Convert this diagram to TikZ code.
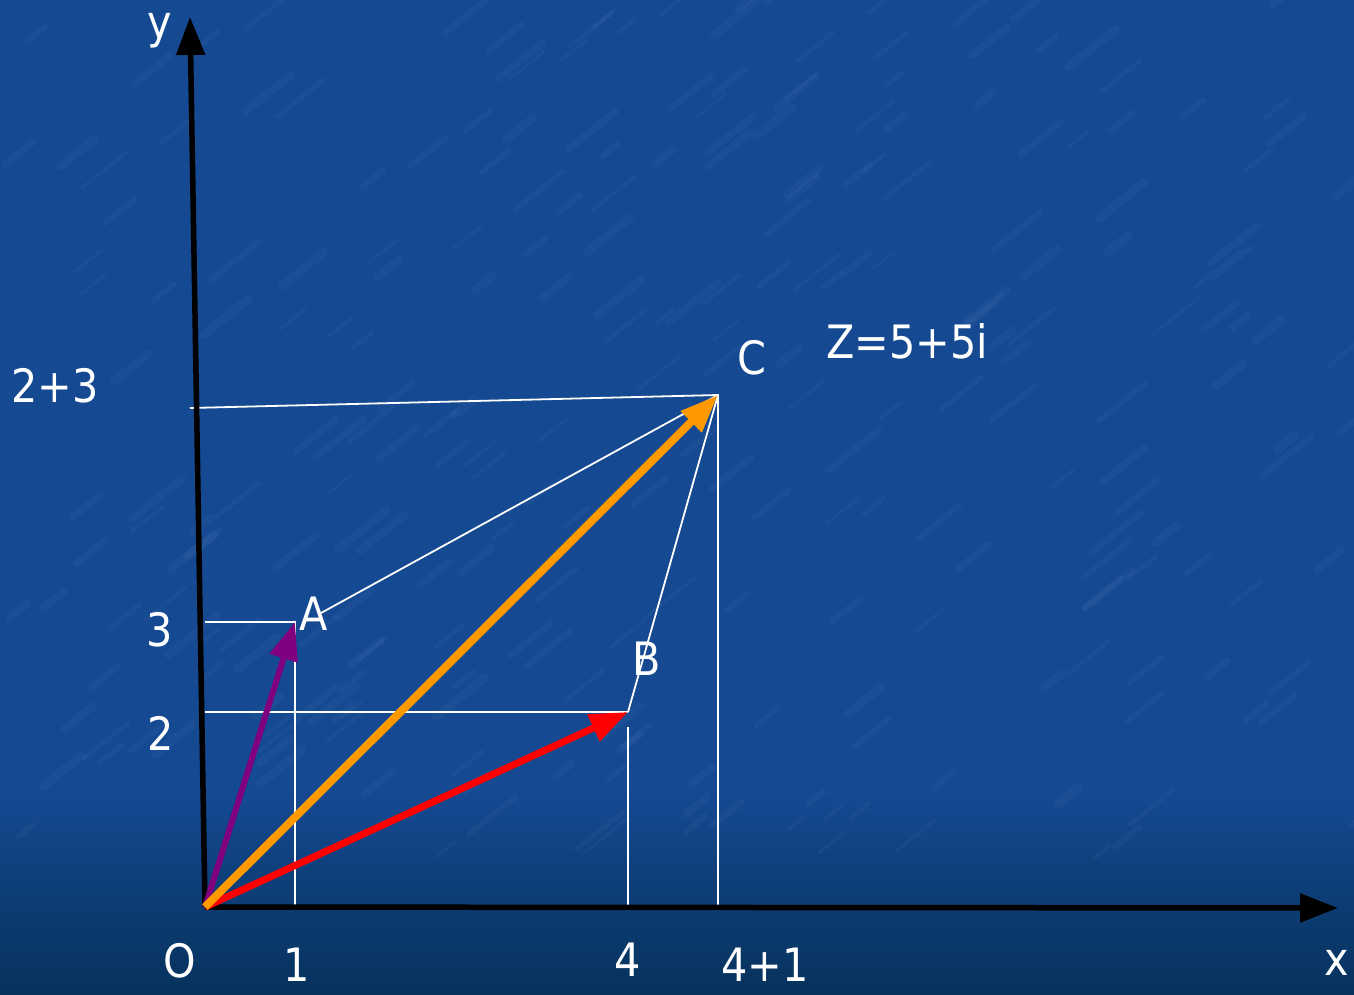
\documentclass[tikz,border=0pt]{standalone}
\usepackage{fontspec}
\setmainfont{DejaVu Sans Condensed}
\usetikzlibrary{arrows.meta}
\definecolor{bgtop}{RGB}{21,73,146}
\definecolor{bgbot}{RGB}{6,50,92}
\definecolor{vpurple}{RGB}{128,0,128}
\definecolor{vorange}{RGB}{255,153,0}
\definecolor{vred}{RGB}{255,0,0}
\tikzset{
  lbl/.style={text=white,font=\fontsize{46}{46}\selectfont,inner sep=0pt,anchor=base},
  guide/.style={white,line width=1.8pt},
  axis/.style={black,line width=5.5pt,-{Triangle[length=38pt,width=28pt]}},
  vec/.style={line width=#1,-{Triangle[length=38pt,width=28pt]}},
  streak/.style={white,line cap=round,opacity=0.03},
}
\begin{document}
\begin{tikzpicture}[x=1pt,y=-1pt]
\fill[bgtop] (0,0) rectangle (1354,994);
\shade[top color=bgtop,bottom color=bgbot] (0,790) rectangle (1354,994);
\useasboundingbox (0,0) rectangle (1354,994);
% faint texture
\pgfmathsetseed{7}
\foreach \i in {1,...,260}{
  \pgfmathsetmacro{\sx}{rnd*1354}
  \pgfmathsetmacro{\sy}{rnd*860}
  \pgfmathsetmacro{\sl}{15+rnd*35}
  \pgfmathsetmacro{\sw}{3+rnd*6}
  \draw[streak,line width=\sw pt] (\sx,\sy) -- ++(\sl,-\sl*0.8);
}
% points
\coordinate (O) at (205,907);
\coordinate (A) at (295,622);
\coordinate (B) at (628,712);
\coordinate (C) at (718,395);
\coordinate (Ay) at (205,622);
\coordinate (Ax) at (295,907);
\coordinate (By) at (205,712);
\coordinate (Bx0) at (628,727);
\coordinate (Bx) at (628,907);
\coordinate (Cy) at (190,408);
\coordinate (Cx) at (718,907);
\coordinate (Aout) at (321,613);
\coordinate (xend) at (1338,908);
\coordinate (yend) at (190,17);
% guide lines
\draw[guide] (Ay) -- (A) -- (Ax);
\draw[guide] (By) -- (B);
\draw[guide] (Bx0) -- (Bx);
\draw[guide] (Cy) -- (C) -- (Cx);
\draw[guide] (Aout) -- (C);
\draw[guide] (B) -- (C);
% axes
\draw[axis] (O) -- (xend);
\draw[axis] (O) -- (yend);
% vectors
\draw[vec=6pt,vpurple] (O) -- (A);
\draw[vec=7pt,vred] (O) -- (B);
\draw[vec=8pt,vorange] (O) -- (C);
% labels
\node[lbl] (ly) at (160,38) {y};
\node[lbl] (lx) at (1337,975) {x};
\node[lbl] (lO) at (180,977) {O};
\node[lbl] (l1) at (297,981) {1};
\node[lbl] (l4) at (628,976) {4};
\node[lbl] (l41) at (765,981) {4+1};
\node[lbl] (l2) at (161,750) {2};
\node[lbl] (l3) at (160,646) {3};
\node[lbl] (l23) at (55,402) {2+3};
\node[lbl] (lA) at (314,630) {A};
\node[lbl] (lB) at (647,675) {B};
\node[lbl] (lC) at (752,374) {C};
\node[lbl] (lZ) at (907,358) {Z=5+5i};
\end{tikzpicture}
\end{document}
